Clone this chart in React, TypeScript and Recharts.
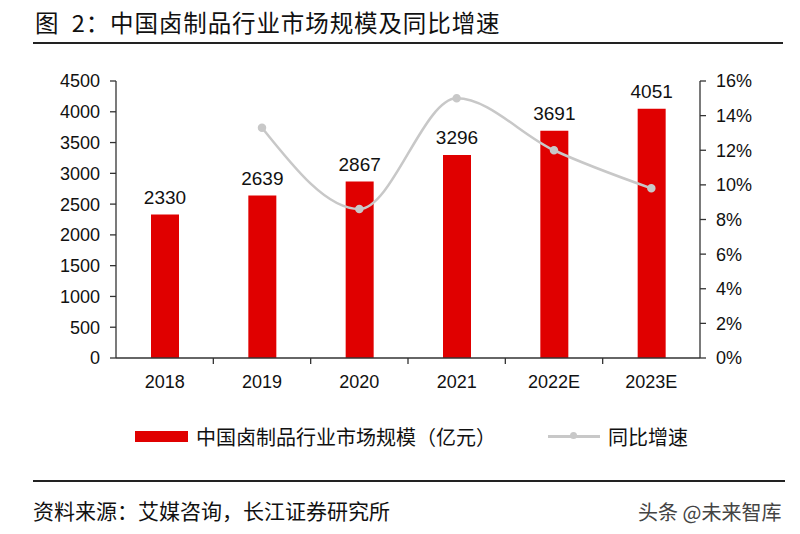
import React from "react";
import {
  ComposedChart,
  Bar,
  Line,
  XAxis,
  YAxis,
  LabelList,
} from "recharts";

const years = ["2018", "2019", "2020", "2021", "2022E", "2023E"];
const marketSize = [2330, 2639, 2867, 3296, 3691, 4051];
const growth = [null, 13.3, 8.6, 15.0, 12.0, 9.8];
const leftTicks = [0, 500, 1000, 1500, 2000, 2500, 3000, 3500, 4000, 4500];
const rightTicks = [0, 2, 4, 6, 8, 10, 12, 14, 16];

const data = years.map((year, i) => ({
  year,
  size: marketSize[i],
  growth: growth[i],
}));

const FONT = '"Liberation Sans", Arial, "Noto Sans CJK SC", sans-serif';
const CJK = '"Noto Sans CJK SC", "Liberation Sans", sans-serif';
const AXIS = "#333";
const RED = "#e00000";
const GREY = "#c8c8c8";

const TICK_SIZE = 6;
const TICK_MARGIN = 11;

const YearTick = (props: any) => {
  const { x, y, payload, index } = props;
  const half = payload.offset ?? 48.7;
  const axisY = y - TICK_SIZE - TICK_MARGIN;
  return (
    <g>
      <text
        x={x}
        y={y}
        dy="0.71em"
        textAnchor="middle"
        fontSize={18}
        fill="#111"
        fontFamily={FONT}
      >
        {payload.value}
      </text>
      {index < years.length - 1 && (
        <line
          x1={x + half}
          x2={x + half}
          y1={axisY}
          y2={axisY + TICK_SIZE}
          stroke={AXIS}
          strokeWidth={1.3}
        />
      )}
    </g>
  );
};

const App: React.FC = () => {
  return (
    <div
      style={{
        position: "absolute",
        left: 0,
        top: 0,
        width: 800,
        height: 534,
        background: "#fff",
        fontFamily: CJK,
        color: "#111",
      }}
    >
      <div
        style={{
          position: "absolute",
          left: 35,
          top: 5,
          fontSize: 23.5,
          letterSpacing: 0.9,
          whiteSpace: "pre",
        }}
      >
        {"图  2：中国卤制品行业市场规模及同比增速"}
      </div>
      <div
        style={{
          position: "absolute",
          left: 33,
          top: 42,
          width: 750,
          height: 2,
          background: "#222",
        }}
      />

      <ComposedChart
        width={800}
        height={534}
        data={data}
        margin={{ top: 81, right: 0, bottom: 136, left: 20 }}
        style={{ position: "absolute", left: 0, top: 0 }}
      >
        <XAxis
          dataKey="year"
          height={40}
          tickLine={false}
          tickSize={TICK_SIZE}
          tickMargin={TICK_MARGIN}
          axisLine={{ stroke: AXIS, strokeWidth: 1.3 }}
          tick={<YearTick />}
          interval={0}
        />
        <YAxis
          yAxisId="left"
          width={96}
          domain={[0, 4500]}
          ticks={leftTicks}
          interval={0}
          tickSize={TICK_SIZE}
          tickMargin={10}
          axisLine={{ stroke: AXIS, strokeWidth: 1.3 }}
          tickLine={{ stroke: AXIS, strokeWidth: 1.3 }}
          tick={{ fontSize: 18, fill: "#111", fontFamily: FONT }}
        />
        <YAxis
          yAxisId="right"
          orientation="right"
          width={100}
          domain={[0, 16]}
          ticks={rightTicks}
          interval={0}
          tickFormatter={(v: number) => `${v}%`}
          tickSize={TICK_SIZE}
          tickMargin={10}
          axisLine={{ stroke: AXIS, strokeWidth: 1.3 }}
          tickLine={{ stroke: AXIS, strokeWidth: 1.3 }}
          tick={{ fontSize: 18, fill: "#111", fontFamily: FONT }}
        />
        <Bar
          yAxisId="left"
          dataKey="size"
          fill={RED}
          barSize={28}
          isAnimationActive={false}
        >
          <LabelList
            dataKey="size"
            position="top"
            offset={11}
            style={{ fontSize: 19, fill: "#111", fontFamily: FONT }}
          />
        </Bar>
        <Line
          yAxisId="right"
          dataKey="growth"
          type="monotone"
          stroke={GREY}
          strokeWidth={2.5}
          dot={{ r: 3, fill: GREY, stroke: GREY }}
          connectNulls={false}
          isAnimationActive={false}
        />
      </ComposedChart>

      <div
        style={{
          position: "absolute",
          left: 135,
          top: 423,
          height: 26,
          display: "flex",
          alignItems: "center",
          fontSize: 20,
          whiteSpace: "nowrap",
        }}
      >
        <span
          style={{
            display: "inline-block",
            width: 53,
            height: 11,
            background: RED,
            marginRight: 8,
          }}
        />
        <span>中国卤制品行业市场规模（亿元）</span>
        <span
          style={{
            position: "relative",
            display: "inline-block",
            width: 52,
            height: 3,
            background: GREY,
            marginLeft: 52,
            marginRight: 8,
          }}
        >
          <span
            style={{
              position: "absolute",
              left: 22,
              top: -2.5,
              width: 7,
              height: 7,
              borderRadius: 4,
              background: GREY,
            }}
          />
        </span>
        <span>同比增速</span>
      </div>

      <div
        style={{
          position: "absolute",
          left: 33,
          top: 480,
          width: 752,
          height: 2,
          background: "#222",
        }}
      />
      <div
        style={{
          position: "absolute",
          left: 33,
          top: 495,
          fontSize: 21,
          whiteSpace: "nowrap",
        }}
      >
        资料来源：艾媒咨询，长江证券研究所
      </div>
      <div
        style={{
          position: "absolute",
          left: 638,
          top: 497,
          fontSize: 20,
          color: "#444",
          whiteSpace: "nowrap",
        }}
      >
        头条 @未来智库
      </div>
    </div>
  );
};

export default App;
